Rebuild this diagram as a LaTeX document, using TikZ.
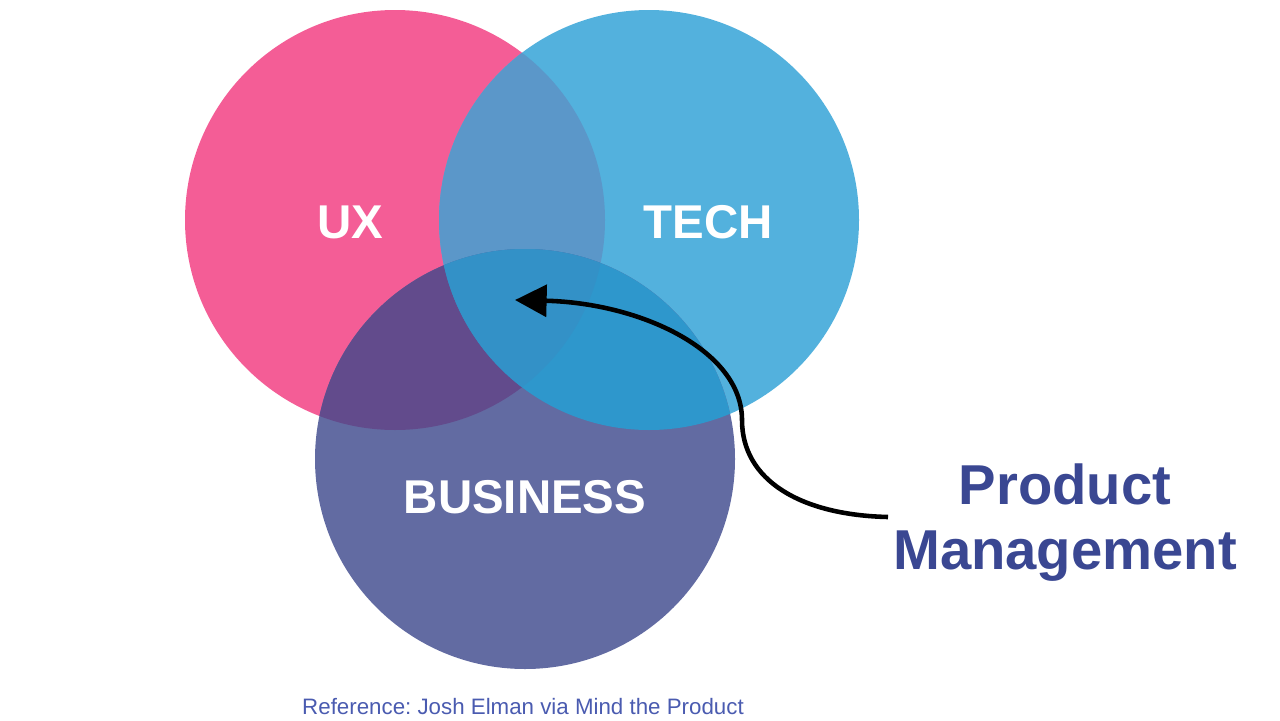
\documentclass[tikz,border=0pt]{standalone}
\usepackage{fontspec}
\setmainfont{Liberation Sans}
\usepackage{xcolor}
\usetikzlibrary{arrows.meta}

\definecolor{uxpink}{HTML}{F45D96}
\definecolor{techblue}{HTML}{53B1DD}
\definecolor{bizblue}{HTML}{626BA2}
\definecolor{uxtech}{HTML}{5B97C9}
\definecolor{uxbiz}{HTML}{624B8C}
\definecolor{techbiz}{HTML}{2E97CC}
\definecolor{allthree}{HTML}{3391C7}
\definecolor{pmtext}{HTML}{3A4792}
\definecolor{reftext}{HTML}{4A5BB0}

\begin{document}
\begin{tikzpicture}[
  x=0.02cm, y=-0.02cm,
  label/.style={text=white, font=\bfseries\fontsize{27}{32}\selectfont, inner sep=0pt},
  pm/.style={text=pmtext, font=\bfseries\fontsize{32}{37}\selectfont, align=center, inner sep=0pt},
  pointer/.style={-{Triangle[length=18pt, width=18pt]}, line width=2.6pt}
]
\useasboundingbox (0,0) rectangle (1280,720);

\coordinate (ux) at (395,220);
\coordinate (tech) at (649,220);
\coordinate (biz) at (525,459);
\def\rad{210}

\fill[uxpink] (ux) circle (\rad);
\fill[techblue] (tech) circle (\rad);
\fill[bizblue] (biz) circle (\rad);
\begin{scope}
  \clip (ux) circle (\rad);
  \fill[uxtech] (tech) circle (\rad);
  \fill[uxbiz] (biz) circle (\rad);
\end{scope}
\begin{scope}
  \clip (tech) circle (\rad);
  \fill[techbiz] (biz) circle (\rad);
\end{scope}
\begin{scope}
  \clip (ux) circle (\rad);
  \clip (tech) circle (\rad);
  \fill[allthree] (biz) circle (\rad);
\end{scope}

\node[label] (uxlabel) at (350,222) {UX};
\node[label] (techlabel) at (708,222) {TECH};
\node[label] (bizlabel) at (525,497) {BUSINESS};

\node[pm] (prodmgmt) at (1065,523) {Product\\Management};
\coordinate (start) at (888,517);
\coordinate (target) at (515,300);
\draw[pointer] (start) .. controls (800,515) and (742,480) .. (742,420)
  .. controls (742,350) and (640,303) .. (target);

\node[text=reftext, font=\fontsize{12.7}{15}\selectfont\frenchspacing, inner sep=0pt] (ref) at (523,707)
  {Reference: Josh Elman via Mind the Product};
\end{tikzpicture}
\end{document}
